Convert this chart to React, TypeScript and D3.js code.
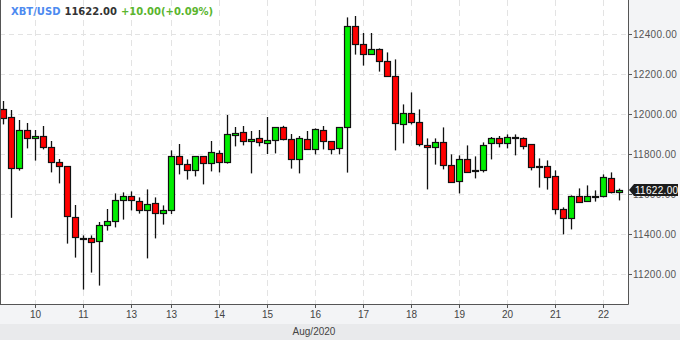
import React from "react";
import * as d3 from "d3";

const opens = [12025,11983,11728,11918,11878,11888,11833,11758,11738,11483,11378,11378,11363,11443,11463,11568,11588,11563,11518,11553,11503,11518,11788,11748,11718,11788,11753,11803,11758,11893,11908,11863,11878,11853,11868,11933,11873,11773,11873,11823,11918,11863,11828,11933,12440,12348,12298,12323,12263,12188,11948,12003,11958,11843,11833,11858,11743,11663,11773,11722,11718,11853,11878,11853,11883,11878,11848,11738,11738,11688,11523,11478,11588,11563,11590,11588,11678,11612];
const highs = [12065,12020,11970,11955,11920,11940,11865,11775,11740,11545,11393,11393,11460,11525,11603,11608,11613,11583,11623,11583,11543,11818,11850,11773,11790,11790,11865,11818,11995,11935,11940,11915,11920,11985,11935,11941,11900,11890,11915,11928,11940,11865,11935,12483,12490,12405,12405,12328,12308,12273,12048,12108,12023,11878,11878,11933,11798,11793,11843,11788,11858,11885,11890,11898,11898,11883,11848,11778,11768,11718,11533,11593,11628,11643,11618,11698,11708,11627];
const lows = [11948,11481,11717,11828,11767,11823,11708,11653,11352,11282,11122,11207,11142,11417,11433,11472,11518,11502,11278,11378,11447,11500,11698,11672,11688,11648,11713,11708,11752,11838,11843,11703,11838,11800,11803,11868,11727,11703,11823,11798,11823,11798,11798,11707,12297,12242,12297,12212,12188,11818,11853,11948,11838,11623,11747,11723,11658,11603,11708,11678,11708,11773,11833,11828,11793,11823,11718,11632,11622,11498,11398,11423,11558,11563,11562,11583,11603,11568];
const closes = [11978,11728,11918,11878,11888,11833,11758,11738,11488,11383,11378,11358,11443,11463,11568,11588,11568,11520,11548,11503,11518,11788,11748,11718,11788,11753,11808,11758,11898,11905,11863,11873,11858,11868,11933,11873,11773,11878,11823,11923,11863,11823,11933,12440,12348,12298,12323,12263,12188,11953,12003,11958,11848,11833,11858,11743,11658,11773,11708,11718,11843,11878,11853,11883,11880,11838,11733,11735,11683,11523,11478,11588,11558,11588,11588,11683,11608,11622];

const xTickIndex = [4, 10, 16, 21, 27, 33, 39, 45, 51, 57, 63, 69, 75];
const xTickLabels = ["10", "11", "13", "13", "14", "15", "16", "17", "18", "19", "20", "21", "22"];
const yTicks = [11200, 11400, 11600, 11800, 12000, 12200, 12400];

const symbol = "XBT/USD";
const lastPrice = 11622.0;
const change = "+10.00(+0.09%)";
const periodLabel = "Aug/2020";

const W = 680;
const H = 340;
const plotR = 628;
const plotB = 304;

export default function App() {
  const idx = opens.map((_, i) => i);
  const x = d3.scaleBand<number>().domain(idx).range([-0.5, -0.5 + idx.length * 8]).padding(0);
  const cx = (i: number) => (x(i) as number) + x.bandwidth() / 2;
  const y = d3.scaleLinear().domain([11200, 12400]).range([274, 34]);
  const green = "#00ee00";
  const red = "#ff0000";
  const font = "'Liberation Sans', Arial, sans-serif";
  const yl = Math.round(y(lastPrice));

  return (
    <div style={{ position: "fixed", left: 0, top: 0, width: W, height: H }}>
      <svg width={W} height={H} style={{ display: "block" }}>
        <rect x={0} y={0} width={W} height={H} fill="#f3f4f6" />
        <rect x={0} y={324} width={W} height={16} fill="#e9eaec" />
        <rect x={0} y={0} width={plotR} height={plotB} fill="#ffffff" />
        <defs>
          <clipPath id="plotclip">
            <rect x={0} y={0} width={plotR} height={plotB} />
          </clipPath>
        </defs>
        <g clipPath="url(#plotclip)">
          {yTicks.map((t) => (
            <line key={"hg" + t} x1={0} x2={plotR} y1={Math.round(y(t)) + 0.5} y2={Math.round(y(t)) + 0.5}
              stroke="#e3e3e3" strokeWidth={1} strokeDasharray="5 4" />
          ))}
          {xTickIndex.map((i) => (
            <line key={"vg" + i} x1={cx(i)} x2={cx(i)} y1={0} y2={plotB}
              stroke="#e3e3e3" strokeWidth={1} strokeDasharray="6 4" />
          ))}
          {idx.map((i) => {
            const o = opens[i], c = closes[i];
            const up = c > o;
            const top = Math.round(y(Math.max(o, c)));
            const bot = Math.round(y(Math.min(o, c)));
            const h = Math.max(1, bot - top);
            return (
              <g key={"c" + i}>
                <line x1={cx(i)} x2={cx(i)} y1={y(highs[i])} y2={y(lows[i])} stroke="#111" strokeWidth={1.3} />
                <rect x={cx(i) - 3} y={top + 0.5} width={6} height={h} fill={up ? green : red}
                  stroke="#111" strokeWidth={1.2} />
              </g>
            );
          })}
        </g>
        <line x1={0.5} x2={0.5} y1={0} y2={plotB} stroke="#555" strokeWidth={1} />
        <line x1={plotR + 0.5} x2={plotR + 0.5} y1={0} y2={plotB + 0.5} stroke="#555" strokeWidth={1} />
        <line x1={0} x2={plotR + 0.5} y1={plotB + 0.5} y2={plotB + 0.5} stroke="#555" strokeWidth={1} />
        {yTicks.map((t) => (
          <g key={"yt" + t}>
            <line x1={plotR} x2={plotR + 4} y1={Math.round(y(t)) + 0.5} y2={Math.round(y(t)) + 0.5} stroke="#555" />
            <text x={plotR + 5} y={y(t)} dy="0.35em" fontFamily={font} fontSize={10} fill="#555"
              letterSpacing={0.3}>{t.toFixed(2)}</text>
          </g>
        ))}
        <path d={`M${plotR + 1},${yl} L${plotR + 6},${yl - 6} L${W - 2},${yl - 6} L${W - 2},${yl + 6} L${plotR + 6},${yl + 6} Z`}
          fill="#1c1c1c" />
        <text x={plotR + 7} y={yl} dy="0.35em" fontFamily={font} fontSize={10} fill="#ffffff" letterSpacing={0.3}>
          {lastPrice.toFixed(2)}
        </text>
        {xTickIndex.map((i, k) => (
          <g key={"xt" + i}>
            <line x1={cx(i)} x2={cx(i)} y1={plotB} y2={plotB + 4} stroke="#555" />
            <text x={cx(i)} y={318} textAnchor="middle" fontFamily={font} fontSize={10} fill="#444">
              {xTickLabels[k]}
            </text>
          </g>
        ))}
        <text x={314} y={335} textAnchor="middle" fontFamily={font} fontSize={10} fill="#444">{periodLabel}</text>
        <text x={11} y={15} fontFamily="'DejaVu Sans', Verdana, sans-serif" fontSize={10} fontWeight="bold">
          <tspan fill="#4d8af0">{symbol}</tspan>
          <tspan fill="#333333" dx={4}>{lastPrice.toFixed(2)}</tspan>
          <tspan fill="#5ab52e" dx={4}>{change}</tspan>
        </text>
      </svg>
    </div>
  );
}
